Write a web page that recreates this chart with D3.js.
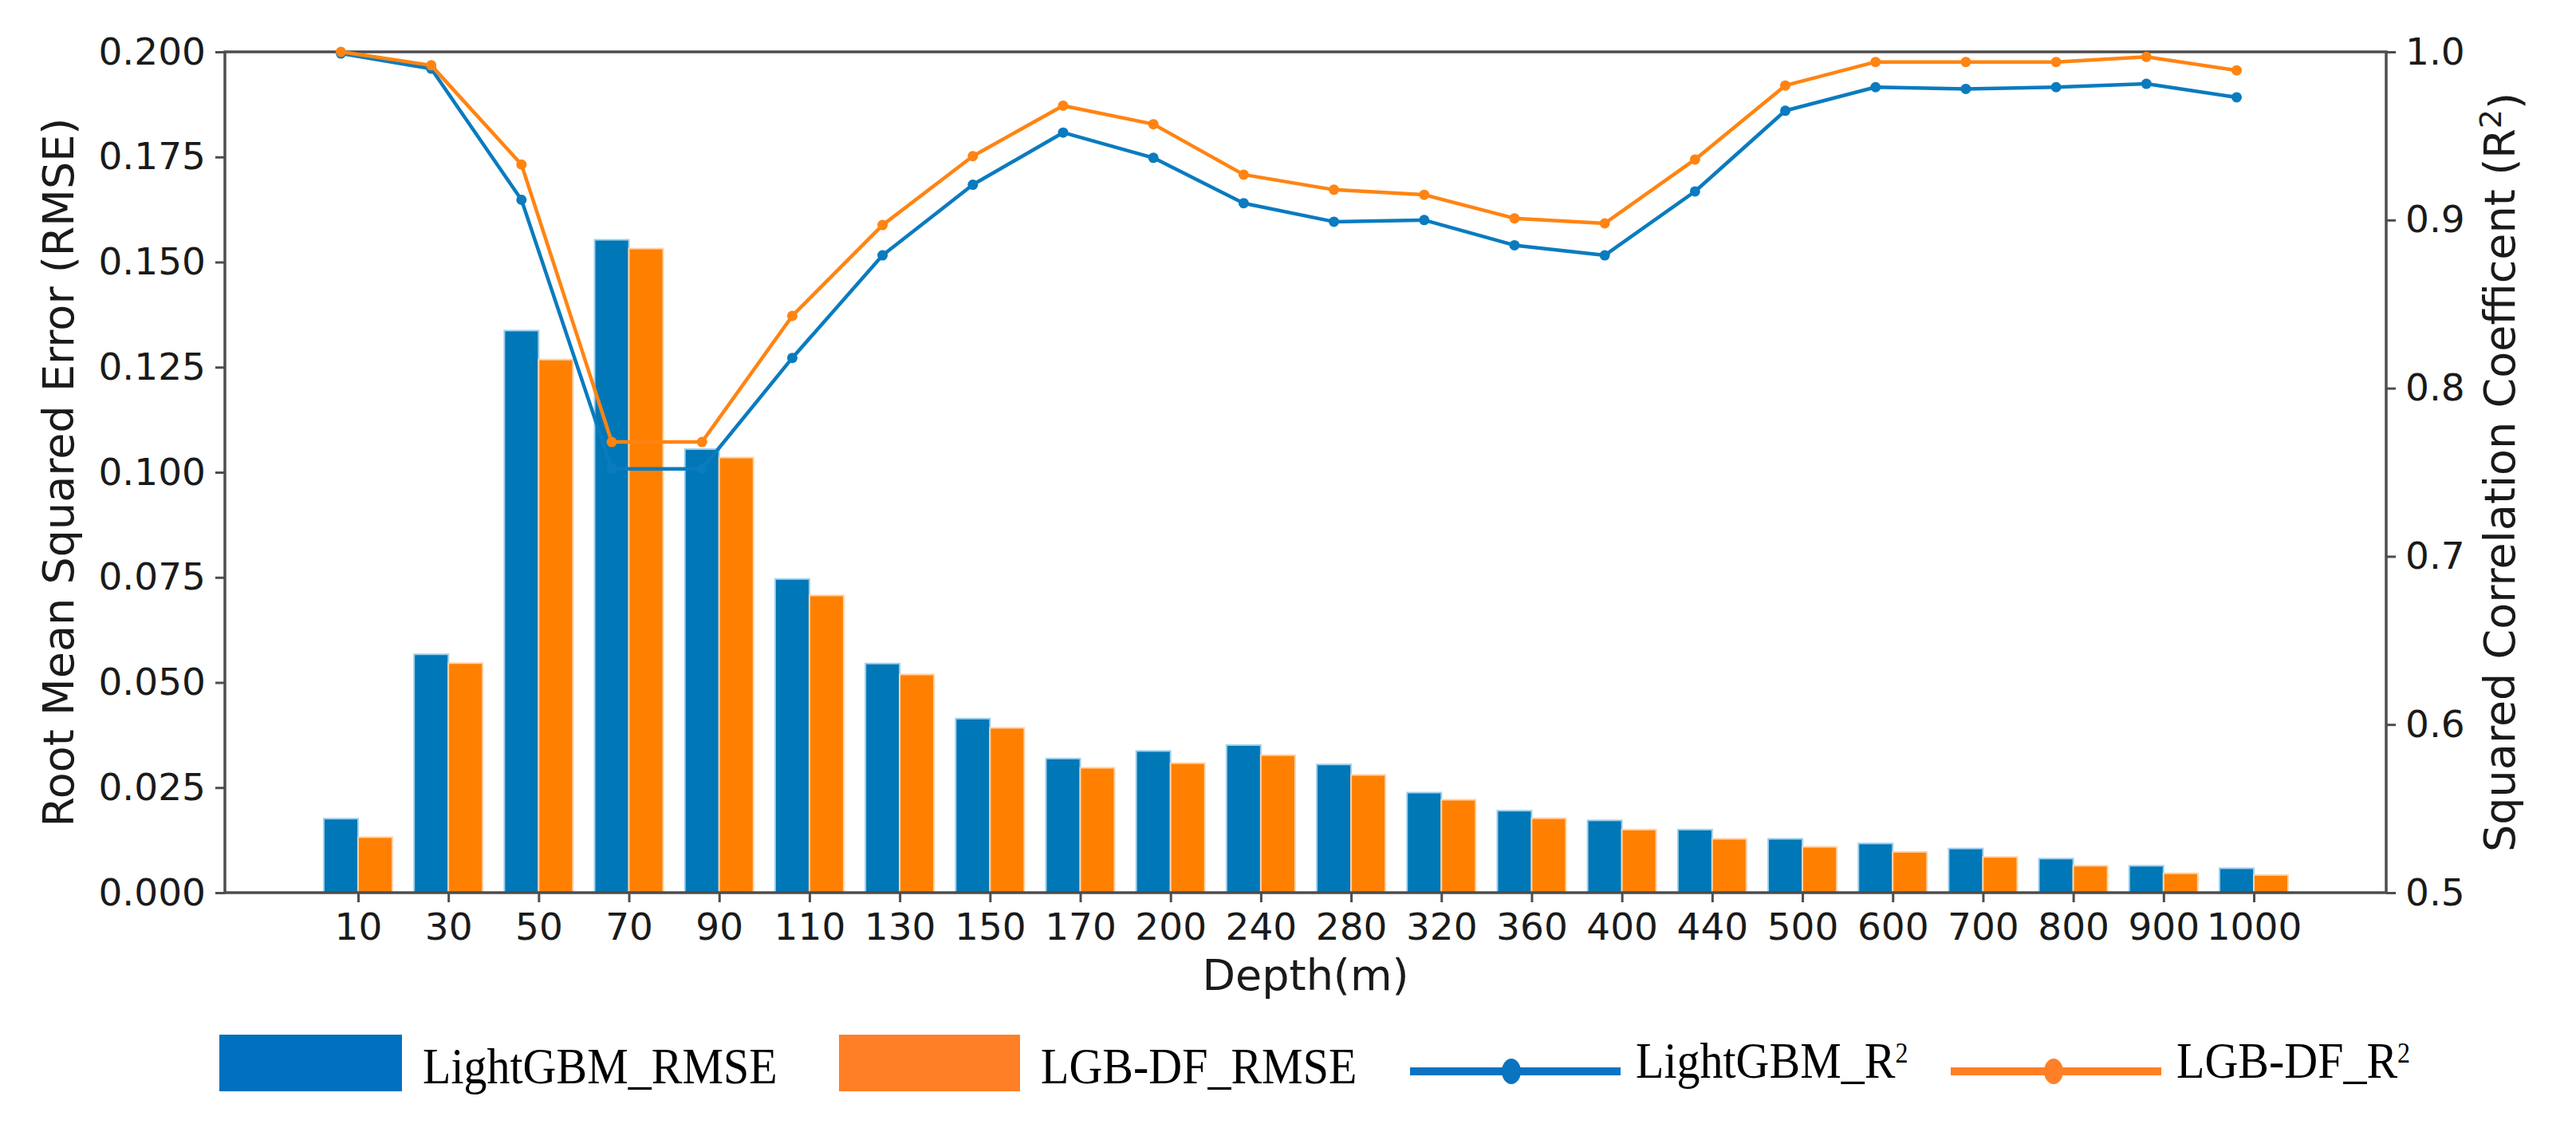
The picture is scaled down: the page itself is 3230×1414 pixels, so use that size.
<!DOCTYPE html>
<html>
<head>
<meta charset="utf-8">
<script src="https://cdn.jsdelivr.net/npm/d3@7"></script>
<style>
html,body{margin:0;padding:0;background:#fff;}
svg{display:block;}
</style>
</head>
<body>
<svg id="chart" width="3230" height="1414"></svg>
<script>
const categories = ["10","30","50","70","90","110","130","150","170","200","240","280","320","360","400","440","500","600","700","800","900","1000"];
const lightgbmRMSE = [0.0176,0.0567,0.1337,0.1553,0.1055,0.0746,0.0545,0.0414,0.0319,0.0337,0.0351,0.0305,0.0238,0.0195,0.0172,0.0150,0.0128,0.0117,0.0105,0.0081,0.0064,0.0058];
const lgbdfRMSE    = [0.0132,0.0546,0.1268,0.1532,0.1035,0.0707,0.0519,0.0392,0.0297,0.0308,0.0327,0.0280,0.0221,0.0177,0.0150,0.0128,0.0109,0.0097,0.0085,0.0064,0.0046,0.0042];
const lightgbmR2   = [0.999,0.990,0.912,0.752,0.752,0.818,0.879,0.921,0.952,0.937,0.910,0.899,0.900,0.885,0.879,0.917,0.965,0.979,0.978,0.979,0.981,0.973];
const lgbdfR2      = [1.000,0.992,0.933,0.768,0.768,0.843,0.897,0.938,0.968,0.957,0.927,0.918,0.915,0.901,0.898,0.936,0.980,0.994,0.994,0.994,0.997,0.989];
const rmseTicks = [0,0.025,0.05,0.075,0.1,0.125,0.15,0.175,0.2];
const r2Ticks = [0.5,0.6,0.7,0.8,0.9,1.0];
const legendLabels = ["LightGBM_RMSE","LGB-DF_RMSE","LightGBM_R","LGB-DF_R"];

const svg = d3.select("#chart");
const W = 3230, H = 1414;
svg.append("rect").attr("width",W).attr("height",H).attr("fill","#fff");

const plot = {left:282, right:2992, top:65, bottom:1119};
const BLUE = "#0077b6", ORANGE = "#ff8000";
const BLUE_L = "#0a7bbf", ORANGE_L = "#ff8412";
const AX = "#4d4d4d";
const tickFont = "DejaVu Sans, sans-serif";

const x = d3.scalePoint().domain(categories).range([449, 2826]);
const step = x.step();
const barW = step * 0.38;
const yL = d3.scaleLinear().domain([0,0.2]).range([plot.bottom, plot.top]);
const yR = d3.scaleLinear().domain([0.5,1.0]).range([plot.bottom, plot.top]);

// bars
const gBars = svg.append("g");
gBars.selectAll("rect.b1").data(categories).join("rect")
  .attr("x", d => x(d) - barW).attr("width", barW)
  .attr("y", (d,i) => yL(lightgbmRMSE[i])).attr("height", (d,i) => yL(0) - yL(lightgbmRMSE[i]))
  .attr("fill", BLUE).attr("stroke", "#9fd0ec").attr("stroke-width", 2);
gBars.selectAll("rect.b2").data(categories).join("rect")
  .attr("x", d => x(d)).attr("width", barW)
  .attr("y", (d,i) => yL(lgbdfRMSE[i])).attr("height", (d,i) => yL(0) - yL(lgbdfRMSE[i]))
  .attr("fill", ORANGE).attr("stroke", "#ffd2a8").attr("stroke-width", 2);

// axes
const axL = d3.axisLeft(yL).tickValues(rmseTicks).tickFormat(d3.format(".3f")).tickSize(12).tickPadding(12);
const axR = d3.axisRight(yR).tickValues(r2Ticks).tickFormat(d3.format(".1f")).tickSize(12).tickPadding(12);
const axB = d3.axisBottom(x).tickSize(12).tickPadding(14);

function styleAxis(g){
  g.select(".domain").remove();
  g.selectAll(".tick line").attr("stroke", AX).attr("stroke-width", 3);
  g.selectAll(".tick text").attr("fill","#1a1a1a").style("font-family", tickFont).style("font-size","47px");
}
svg.append("g").attr("transform",`translate(${plot.left},0)`).call(axL).call(styleAxis);
svg.append("g").attr("transform",`translate(${plot.right},0)`).call(axR).call(styleAxis);
svg.append("g").attr("transform",`translate(0,${plot.bottom})`).call(axB).call(styleAxis);

// spines
svg.append("rect").attr("x",plot.left).attr("y",plot.top)
  .attr("width",plot.right-plot.left).attr("height",plot.bottom-plot.top)
  .attr("fill","none").attr("stroke",AX).attr("stroke-width",3.5);

// lines
const lineOff = -barW/2;
function drawLine(vals, color, w){
  const pts = categories.map((c,i)=>[x(c)+lineOff, yR(vals[i])]);
  svg.append("path").attr("d", d3.line()(pts)).attr("fill","none")
    .attr("stroke",color).attr("stroke-width",w).attr("stroke-linejoin","round");
  svg.append("g").selectAll("circle").data(pts).join("circle")
    .attr("cx",d=>d[0]).attr("cy",d=>d[1]).attr("r",6.5).attr("fill",color);
}
drawLine(lightgbmR2, BLUE_L, 4.5);
drawLine(lgbdfR2, ORANGE_L, 4.5);

// axis titles
const titleFont = "DejaVu Sans, sans-serif";
svg.append("text").attr("transform",`translate(92,${(plot.top+plot.bottom)/2}) rotate(-90)`)
  .attr("text-anchor","middle").style("font-family",titleFont).style("font-size","54px").attr("fill","#1a1a1a")
  .text("Root Mean Squared Error (RMSE)");
const rt = svg.append("text").attr("transform",`translate(3153,${(plot.top+plot.bottom)/2}) rotate(-90)`)
  .attr("text-anchor","middle").style("font-family",titleFont).style("font-size","54px").attr("fill","#1a1a1a");
rt.append("tspan").text("Squared Correlation Coefficent (R");
rt.append("tspan").attr("dy","-0.45em").style("font-size","38px").text("2");
rt.append("tspan").attr("dy","0.45em").text(")");
svg.append("text").attr("x",(plot.left+plot.right)/2).attr("y",1241)
  .attr("text-anchor","middle").style("font-family",titleFont).style("font-size","54px").attr("fill","#1a1a1a")
  .text("Depth(m)");

// legend
const legY = 1332;
const lg = svg.append("g");
function legText(xp, yb, label, sup){
  const t = lg.append("text").attr("transform",`translate(${xp},${yb}) scale(1,1.1)`)
    .style("font-family","Liberation Serif, Times New Roman, serif").style("font-size","58px").attr("fill","#000");
  t.append("tspan").text(label);
  if(sup) t.append("tspan").attr("dy","-0.55em").style("font-size","32px").text("2");
}
lg.append("rect").attr("x",275).attr("y",1297).attr("width",229).attr("height",71).attr("fill","#0070c0");
legText(530,1358,legendLabels[0],false);
lg.append("rect").attr("x",1052).attr("y",1297).attr("width",227).attr("height",71).attr("fill","#ff7f27");
legText(1305,1358,legendLabels[1],false);
lg.append("line").attr("x1",1768).attr("x2",2032).attr("y1",1343).attr("y2",1343).attr("stroke","#0a74c0").attr("stroke-width",10);
lg.append("ellipse").attr("cx",1895).attr("cy",1343).attr("rx",12).attr("ry",16).attr("fill","#0a74c0");
legText(2051,1351,legendLabels[2],true);
lg.append("line").attr("x1",2446).attr("x2",2710).attr("y1",1343).attr("y2",1343).attr("stroke","#ff7f27").attr("stroke-width",10);
lg.append("ellipse").attr("cx",2575).attr("cy",1343).attr("rx",12).attr("ry",16).attr("fill","#ff7f27");
legText(2729,1351,legendLabels[3],true);
</script>
</body>
</html>
